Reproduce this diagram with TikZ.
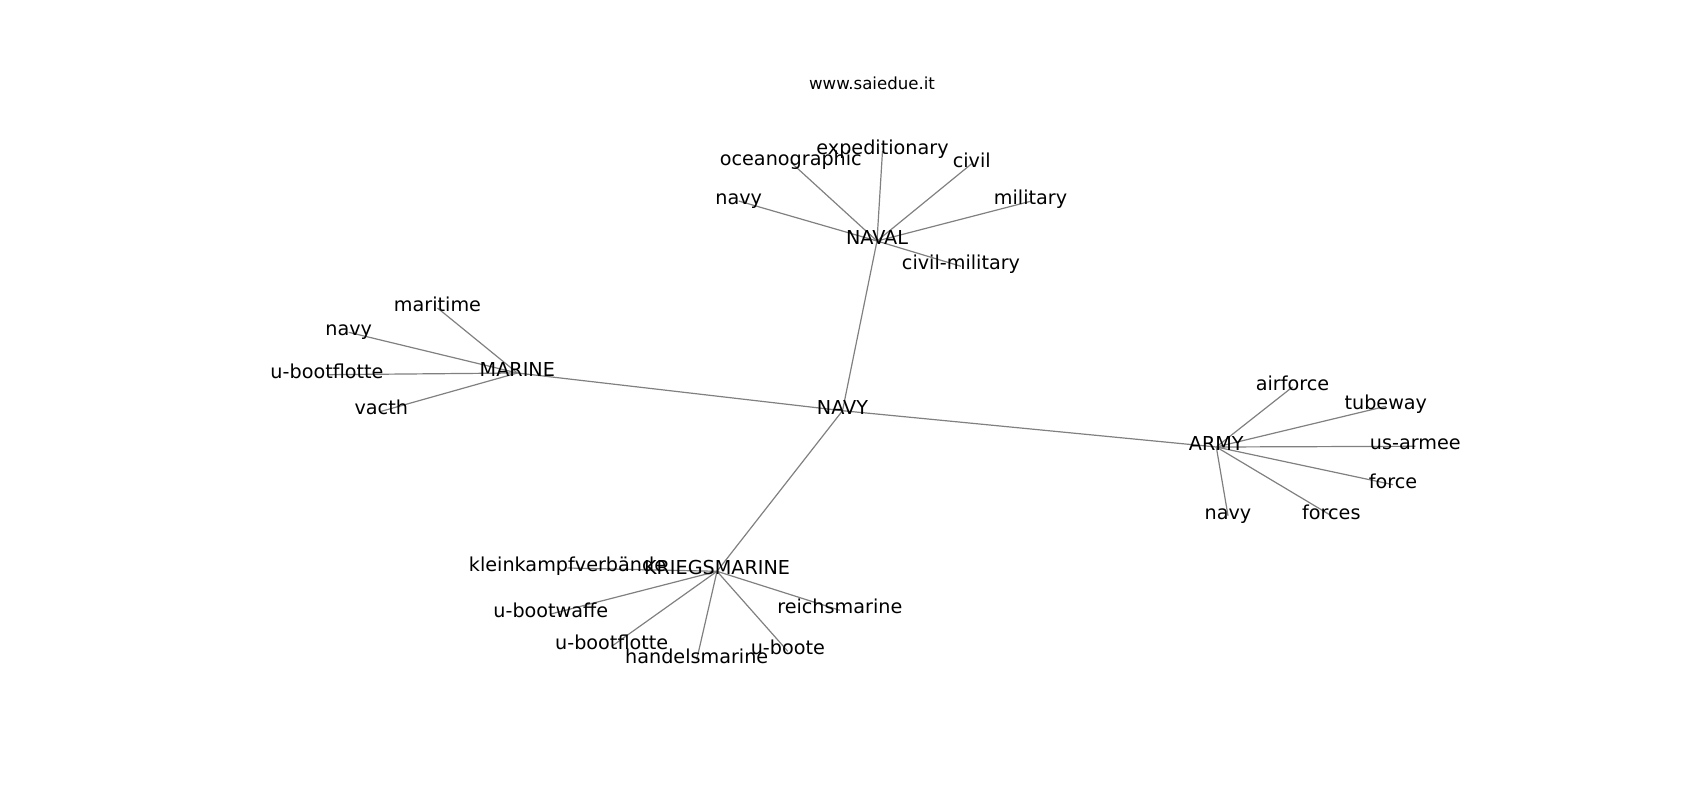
\documentclass[tikz,border=0pt]{standalone}
\usepackage{fontspec}
\setmainfont{DejaVu Sans}
\usetikzlibrary{backgrounds}
\tikzset{
  lbl/.style={inner sep=0pt, anchor=center, text height=0.83em, text depth=0.12em, font=\fontsize{19.2}{21}\selectfont},
  ttl/.style={inner sep=0pt, anchor=center, font=\fontsize{16.6}{18}\selectfont},
  edge/.style={draw=gray, line width=1.2pt}
}
\begin{document}
\begin{tikzpicture}[x=1pt,y=-1pt]
\useasboundingbox (0,0) rectangle (1700,800);
\node[ttl] (title) at (872,83) {www.saiedue.it};
\begin{scope}[yshift=-3pt]
\node[lbl] (NAVY) at (842.5,407.7) {NAVY};
\node[lbl] (NAVAL) at (877,238) {NAVAL};
\node[lbl] (nnavy) at (738.7,198) {navy};
\node[lbl] (ocean) at (790.8,159.3) {oceanographic};
\node[lbl] (exped) at (882.5,148) {expeditionary};
\node[lbl] (civil) at (971.7,160.7) {civil};
\node[lbl] (milit) at (1030.5,198.3) {military};
\node[lbl] (civmil) at (961,263.3) {civil-military};
\node[lbl] (MARINE) at (517.3,370) {MARINE};
\node[lbl] (marit) at (437.5,305) {maritime};
\node[lbl] (mnavy) at (348.7,329.3) {navy};
\node[lbl] (mubf) at (327,371.7) {u-bootflotte};
\node[lbl] (vacth) at (381.3,408.3) {vacth};
\node[lbl] (ARMY) at (1216.3,444) {ARMY};
\node[lbl] (airf) at (1292.5,384) {airforce};
\node[lbl] (tubew) at (1385.8,403.3) {tubeway};
\node[lbl] (usarm) at (1415.3,443.3) {us-armee};
\node[lbl] (force) at (1393,481.7) {force};
\node[lbl] (forces) at (1331.3,512.7) {forces};
\node[lbl] (anavy) at (1228,512.7) {navy};
\node[lbl] (KRIEG) at (717,568.3) {KRIEGSMARINE};
\node[lbl] (klein) at (567.5,565) {kleinkampfverbände};
\node[lbl] (ubw) at (550.8,611) {u-bootwaffe};
\node[lbl] (kubf) at (611.7,643.3) {u-bootflotte};
\node[lbl] (handel) at (696.7,656.7) {handelsmarine};
\node[lbl] (uboote) at (787.8,648.3) {u-boote};
\node[lbl] (reichs) at (839.8,607.3) {reichsmarine};
\end{scope}
\begin{scope}[on background layer]
\foreach \a/\b in {NAVY/NAVAL, NAVY/MARINE, NAVY/ARMY, NAVY/KRIEG,
  NAVAL/nnavy, NAVAL/ocean, NAVAL/exped, NAVAL/civil, NAVAL/milit, NAVAL/civmil,
  MARINE/marit, MARINE/mnavy, MARINE/mubf, MARINE/vacth,
  ARMY/airf, ARMY/tubew, ARMY/usarm, ARMY/force, ARMY/forces, ARMY/anavy,
  KRIEG/klein, KRIEG/ubw, KRIEG/kubf, KRIEG/handel, KRIEG/uboote, KRIEG/reichs}
  \draw[edge] (\a.center) -- (\b.center);
\end{scope}
\end{tikzpicture}
\end{document}
